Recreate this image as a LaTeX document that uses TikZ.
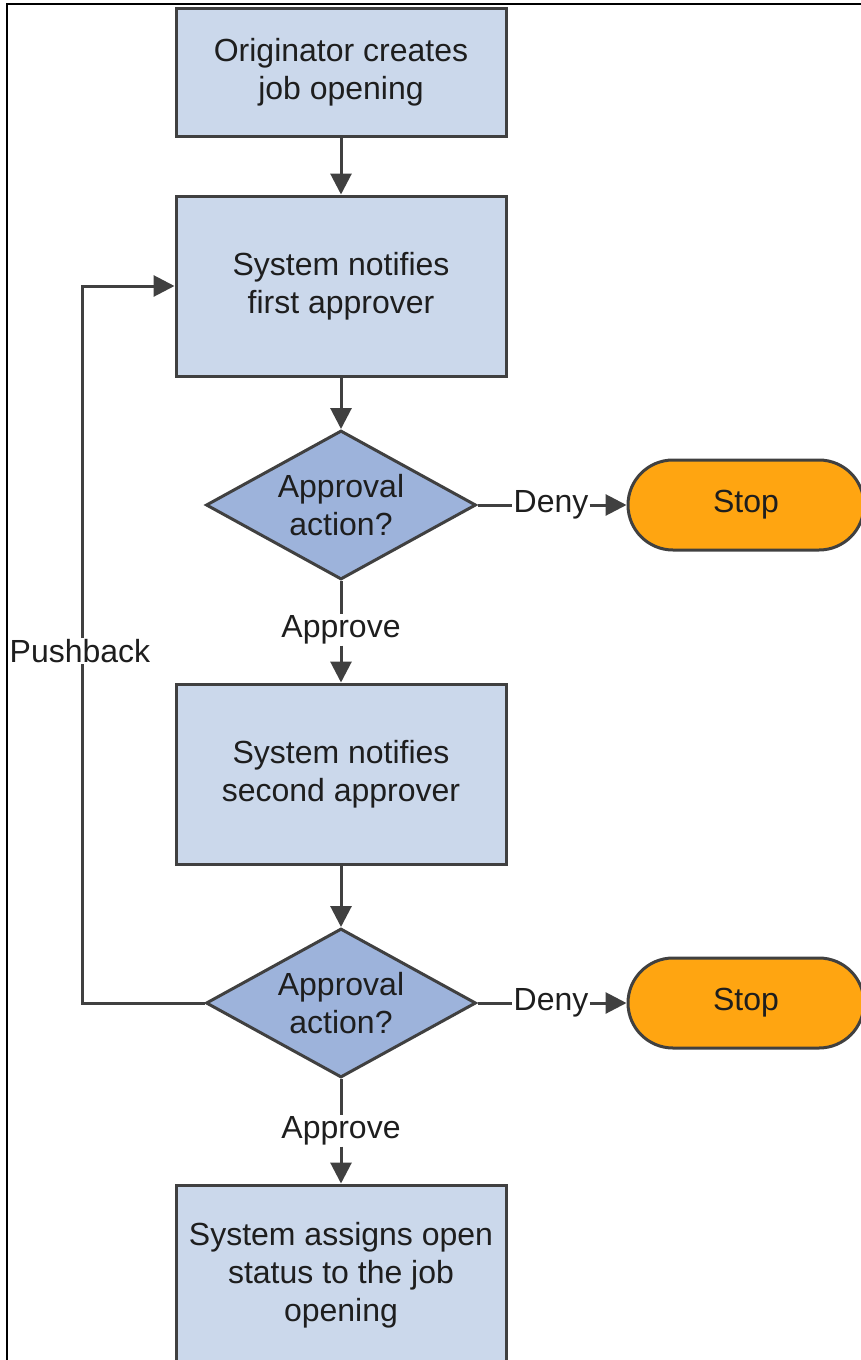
\documentclass[tikz,border=0pt]{standalone}
\usepackage{fontspec}
\setmainfont{Liberation Sans}
\usetikzlibrary{shapes.geometric,arrows.meta}
\definecolor{boxfill}{RGB}{203,216,235}
\definecolor{diafill}{RGB}{157,179,219}
\definecolor{stopfill}{RGB}{255,165,17}
\definecolor{edge}{RGB}{64,64,64}
\definecolor{txt}{RGB}{30,30,30}
\tikzset{
  every node/.style={font=\fontsize{32}{38}\selectfont, text=txt},
  procbox/.style={draw=edge, line width=3pt, fill=boxfill, rectangle, align=center,
    minimum width=330pt, inner sep=0pt},
  decision/.style={draw=edge, line width=3pt, fill=diafill, diamond, aspect=1.81, align=center,
    minimum width=270pt, minimum height=149pt, inner sep=0pt},
  stopbox/.style={draw=edge, line width=3pt, fill=stopfill, rectangle, rounded corners=45pt,
    minimum width=236pt, minimum height=90pt, inner sep=0pt},
  lbl/.style={inner sep=1pt},
  conn/.style={draw=edge, line width=3pt},
  arr/.style={conn, -{Triangle[length=21pt,width=21pt]}},
}
\begin{document}
\begin{tikzpicture}[x=1pt,y=-1pt]
\useasboundingbox (0,0) rectangle (861,1360);
\clip (0,0) rectangle (861,1360);
% frame
\draw[black, line width=2pt] (7,1362) -- (7,4) -- (863,4);
% nodes
\node[procbox, minimum height=128pt] (b1) at (341,72) {Originator creates\\job opening};
\node[procbox, minimum height=180pt] (b2) at (341,286) {System notifies\\first approver};
\node[decision] (d1) at (341,505) {Approval\\action?};
\node[stopbox] (s1) at (746,505) {Stop};
\node[lbl] (deny1) at (551,505) {Deny};
\node[lbl] (app1) at (341,630) {Approve};
\node[procbox, minimum height=180pt] (b3) at (341,774) {System notifies\\second approver};
\node[decision] (d2) at (341,1003) {Approval\\action?};
\node[stopbox] (s2) at (746,1003) {Stop};
\node[lbl] (deny2) at (551,1003) {Deny};
\node[lbl] (app2) at (341,1131) {Approve};
\node[procbox, minimum height=180pt] (b4) at (341,1275) {System assigns open\\status to the job\\opening};
\node[lbl] (push) at (80,651) {Pushback};
% connectors
\draw[arr] (b1.south) -- (b2.north);
\draw[arr] (b2.south) -- (d1.north);
\draw[conn] (d1.east) -- (deny1.west);
\draw[arr] (deny1.east) -- (s1.west);
\draw[conn] (d1.south) -- (app1.north);
\draw[arr] (app1.south) -- (b3.north);
\draw[arr] (b3.south) -- (d2.north);
\draw[conn] (d2.east) -- (deny2.west);
\draw[arr] (deny2.east) -- (s2.west);
\draw[conn] (d2.south) -- (app2.north);
\draw[arr] (app2.south) -- (b4.north);
\draw[conn] (d2.west) -| ([xshift=2pt]push.south);
\draw[arr] ([xshift=2pt]push.north) |- (b2.west);
\end{tikzpicture}
\end{document}
